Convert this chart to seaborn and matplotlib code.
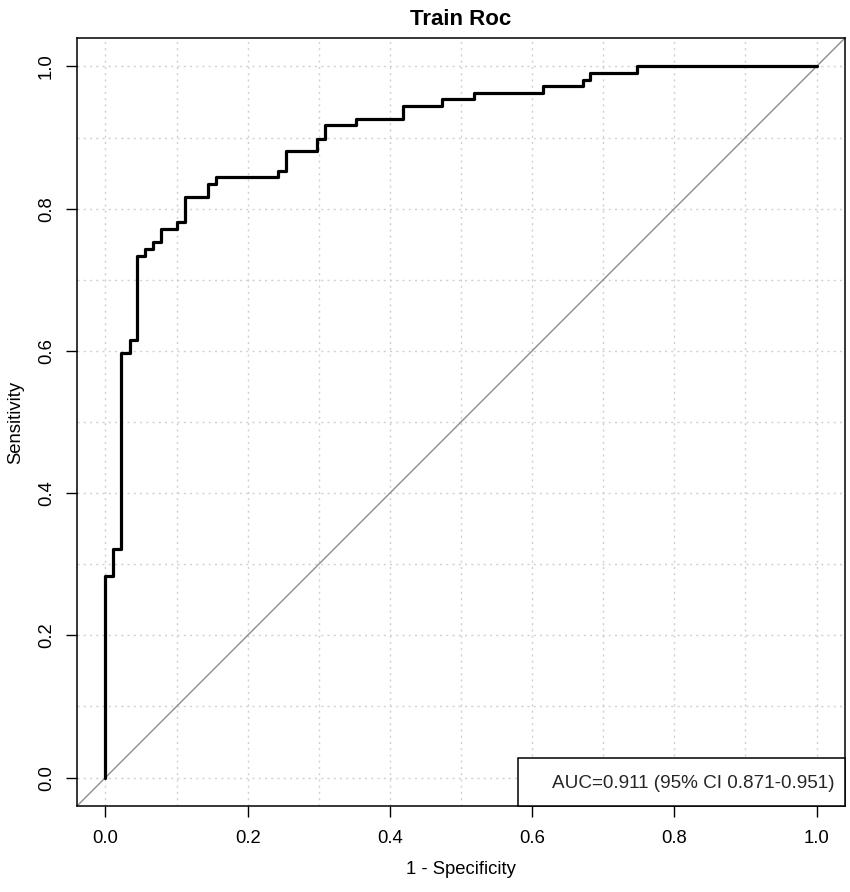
import numpy as np
import pandas as pd
import matplotlib
matplotlib.use("Agg")
import matplotlib.pyplot as plt
import seaborn as sns
from matplotlib.lines import Line2D

# ROC corner points (step curve, vertical jumps at each fpr)
fpr = [0.0, 0.0, 0.011, 0.022, 0.034, 0.045, 0.055, 0.067, 0.078, 0.101, 0.112,
       0.144, 0.155, 0.242, 0.254, 0.298, 0.309, 0.353, 0.419, 0.473, 0.518,
       0.616, 0.671, 0.682, 0.748, 1.0]
tpr = [0.0, 0.284, 0.321, 0.597, 0.615, 0.734, 0.743, 0.753, 0.771, 0.781, 0.816,
       0.835, 0.844, 0.853, 0.881, 0.898, 0.917, 0.926, 0.945, 0.954, 0.963,
       0.972, 0.981, 0.991, 1.0, 1.0]
auc_text = "AUC=0.911 (95% CI 0.871-0.951)"
tick_vals = [0.0, 0.2, 0.4, 0.6, 0.8, 1.0]
grid_vals = np.round(np.arange(0, 1.01, 0.1), 1)

sns.set_theme(style="ticks")
plt.rcParams['font.family'] = ['Liberation Sans', 'DejaVu Sans']

roc = pd.DataFrame({"fpr": fpr, "tpr": tpr})

fig = plt.figure(figsize=(8.5, 8.92), dpi=100)
ax = fig.add_axes([0.0906, 0.0964, 0.9035, 0.861])

# grid every 0.1, dotted light grey
for g in grid_vals:
    ax.axvline(g, color="#d0d0d0", linestyle=(0, (1.5, 3)), lw=1.0, zorder=0)
    ax.axhline(g, color="#d0d0d0", linestyle=(0, (1.5, 3)), lw=1.0, zorder=0)

ax.axline((0, 0), (1, 1), color="#8c8c8c", lw=1.0, zorder=1)

sns.lineplot(data=roc, x="fpr", y="tpr", estimator=None, sort=False,
             drawstyle="steps-post", color="black", linewidth=2.3, ax=ax, zorder=2)

ax.set_xlim(-0.04, 1.04)
ax.set_ylim(-0.04, 1.04)
ax.set_xticks(tick_vals)
ax.set_yticks(tick_vals)
ax.set_xticklabels([f"{v:.1f}" for v in tick_vals])
ax.set_yticklabels([f"{v:.1f}" for v in tick_vals], rotation=90, va="center")
ax.tick_params(axis="both", length=8, width=1.0, color="black", labelsize=13.3,
               labelcolor="black")
ax.tick_params(axis="x", pad=9)
ax.tick_params(axis="y", pad=8)
for s in ax.spines.values():
    s.set_visible(True)
    s.set_color("black")
    s.set_linewidth(1.1)

ax.set_xlabel("1 - Specificity", fontsize=13.3, color="black", labelpad=10)
ax.set_ylabel("Sensitivity", fontsize=13.3, color="black", labelpad=10)
ax.set_title("Train Roc", fontsize=16, fontweight="bold", color="black", pad=9)

leg = ax.legend(handles=[Line2D([], [], color="none")], labels=[auc_text],
                loc="lower right", borderaxespad=0, fancybox=False,
                edgecolor="black", framealpha=1, fontsize=13.6,
                handlelength=0.9, handletextpad=0.35, handleheight=1.85,
                borderpad=0.55)
leg.get_frame().set_linewidth(1.1)

fig.savefig("out.png", dpi=100)
